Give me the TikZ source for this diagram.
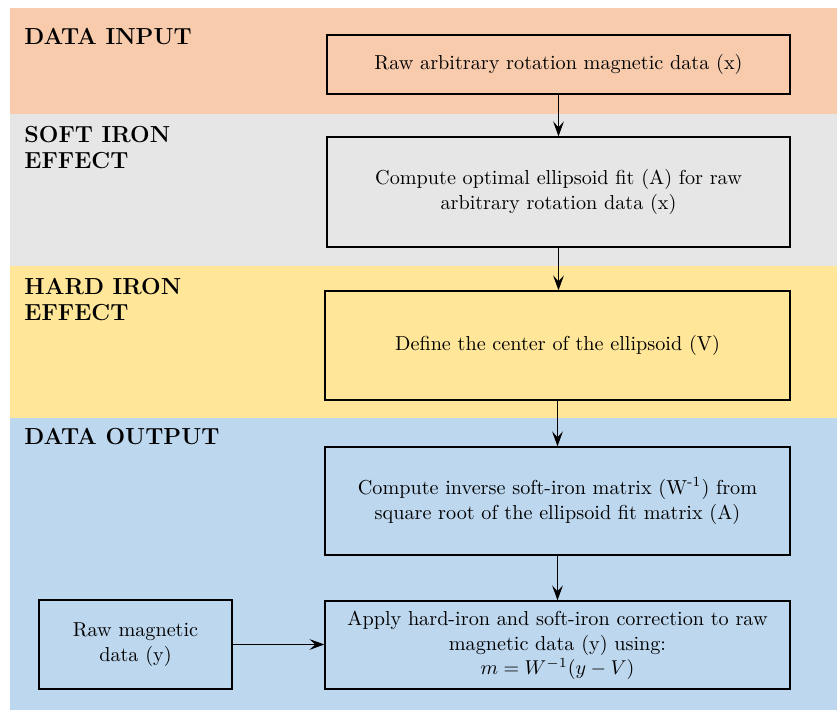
\documentclass[tikz,border=0pt]{standalone}
\usetikzlibrary{arrows.meta}
\definecolor{inbg}{RGB}{248,203,173}
\definecolor{softbg}{RGB}{231,230,230}
\definecolor{hardbg}{RGB}{255,230,153}
\definecolor{outbg}{RGB}{189,215,238}
\begin{document}
\begin{tikzpicture}[x=0.5pt,y=-0.5pt,
  stepbox/.style={draw=black,line width=0.65pt,align=center,inner sep=0pt,font=\fontsize{10.1}{12.6}\selectfont},
  lanelabel/.style={anchor=north west,align=left,inner sep=0pt,font=\fontsize{11.6}{13}\selectfont\bfseries},
  flow/.style={-{Stealth[length=7.5pt,width=5.4pt,inset=3pt]},line width=0.5pt}]
\useasboundingbox (0,0) rectangle (837,711);
% bands
\fill[inbg]   (10,8)   rectangle (837,114);
\fill[softbg] (10,114) rectangle (837,266);
\fill[hardbg] (10,266) rectangle (837,418);
\fill[outbg]  (10,418) rectangle (837,710);
% lane labels
\node[lanelabel] (l1) at (24,28) {DATA INPUT};
\node[lanelabel] (l2) at (24,126) {SOFT IRON\\EFFECT};
\node[lanelabel] (l3) at (24,278) {HARD IRON\\EFFECT};
\node[lanelabel] (l4) at (24,428) {DATA OUTPUT};
% boxes
\node[stepbox,minimum width=231.5pt,minimum height=29.5pt] (b1) at (558.5,64.5) {Raw arbitrary rotation magnetic data (x)};
\node[stepbox,minimum width=231.5pt,minimum height=55pt] (b2) at (558.5,192) {Compute optimal ellipsoid fit (A) for raw\\arbitrary rotation data (x)};
\node[stepbox,minimum width=232.5pt,minimum height=54.5pt] (b3) at (557.5,345.5) {Define the center of the ellipsoid (V)};
\node[stepbox,minimum width=232.5pt,minimum height=54pt] (b4) at (557.5,501) {Compute inverse soft-iron matrix (W\textsuperscript{-1}) from\\square root of the ellipsoid fit matrix (A)};
\node[stepbox,minimum width=232.5pt,minimum height=44pt] (b5) at (557.5,645) {Apply hard-iron and soft-iron correction to raw\\magnetic data (y) using:\\[-0.5pt]$m = W^{-1}(y - V)$};
\node[stepbox,minimum width=96.5pt,minimum height=44.5pt] (raw) at (135.5,644.5) {Raw magnetic\\data (y)};
% connectors
\draw[flow] (b1.south) -- (b2.north);
\draw[flow] (b2.south) -- (b2.south |- b3.north);
\draw[flow] (b3.south) -- (b4.north);
\draw[flow] (b4.south) -- (b5.north);
\draw[flow] (raw.east) -- (raw.east -| b5.west);
\end{tikzpicture}
\end{document}
